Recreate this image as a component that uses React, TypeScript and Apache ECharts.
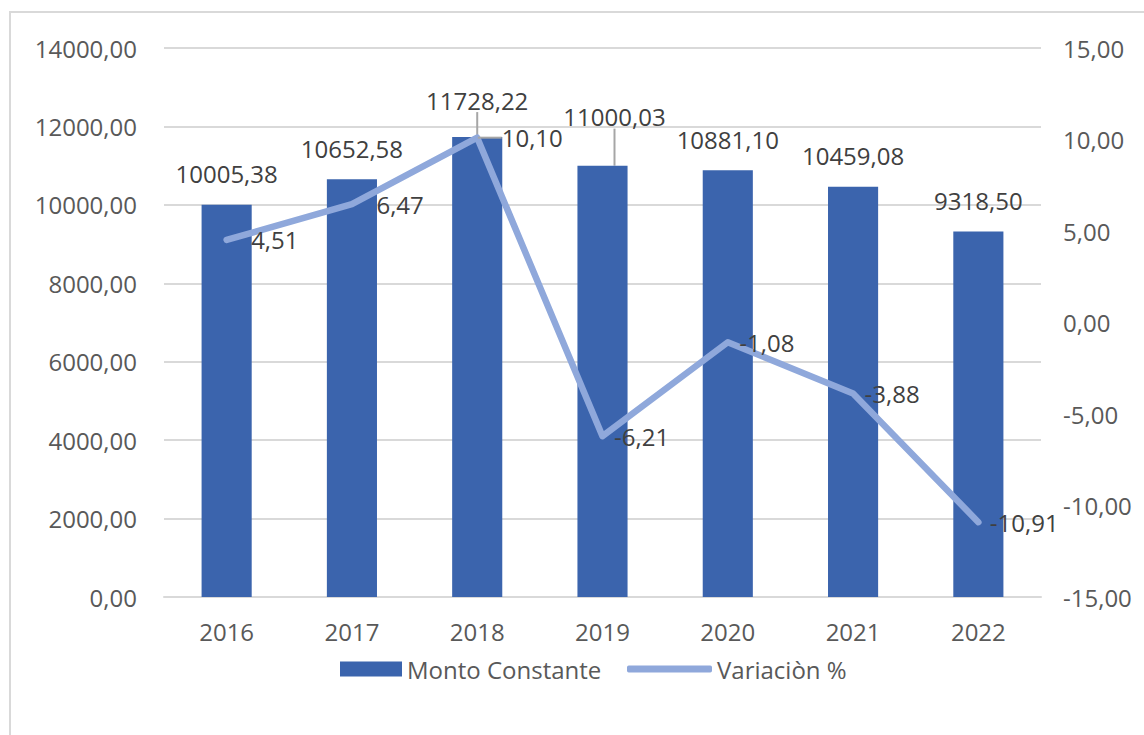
import React, { useEffect, useRef } from 'react';
import * as echarts from 'echarts';

const years = ['2016', '2017', '2018', '2019', '2020', '2021', '2022'];
const montoConstante = [10005.38, 10652.58, 11728.22, 11000.03, 10881.1, 10459.08, 9318.5];
const variacion = [4.51, 6.47, 10.1, -6.21, -1.08, -3.88, -10.91];
const seriesNames = ['Monto Constante', 'Variaciòn %'];

const fmt = (v: number) => v.toFixed(2).replace('.', ',');

const FONT = 'Open Sans';
const TXT = '#595959';
const LBL = '#404040';
const BAR = '#3B64AD';
const LINE = '#8FA8DB';

export default function App() {
  const ref = useRef<HTMLDivElement>(null);
  useEffect(() => {
    if (!ref.current) return;
    const chart = echarts.init(ref.current, undefined, { renderer: 'svg' });
    const barData = montoConstante.map((v, i) => ({
      value: v,
      labelLine: { show: i === 2 || i === 3 },
    }));
    const lineData = variacion.map((v, i) => ({
      value: v,
      labelLine: { show: i === 2 },
    }));
    chart.setOption({
      animation: false,
      backgroundColor: '#ffffff',
      textStyle: { fontFamily: FONT },
      graphic: [
        {
          type: 'rect',
          shape: { x: 10, y: 12, width: 1200, height: 800 },
          style: { fill: 'none', stroke: '#D9D9D9', lineWidth: 2 },
          silent: true,
          z: -1,
        },
      ],
      grid: { left: 164, right: 103, top: 48, bottom: 138 },
      legend: [
        {
          left: 335,
          top: 652,
          itemWidth: 62,
          itemHeight: 15,
          textStyle: { fontSize: 24, color: TXT, fontFamily: FONT },
          data: [{ name: seriesNames[0], icon: 'rect' }],
        },
        {
          left: 622,
          top: 652,
          itemWidth: 85,
          itemHeight: 7,
          textStyle: { fontSize: 24, color: TXT, fontFamily: FONT },
          data: [{ name: seriesNames[1], icon: 'roundRect', itemStyle: { color: LINE } }],
        },
      ],
      xAxis: {
        type: 'category',
        data: years,
        axisLine: { lineStyle: { color: '#D9D9D9', width: 2 } },
        axisTick: { show: false },
        axisLabel: { fontSize: 24, color: TXT, margin: 22, fontFamily: FONT },
      },
      yAxis: [
        {
          type: 'value',
          min: 0,
          max: 14000,
          interval: 2000,
          axisLabel: { fontSize: 24, color: TXT, margin: 27, formatter: (v: number) => fmt(v), fontFamily: FONT },
          splitLine: { lineStyle: { color: '#D9D9D9', width: 2 } },
          axisLine: { show: false },
          axisTick: { show: false },
        },
        {
          type: 'value',
          min: -15,
          max: 15,
          interval: 5,
          position: 'right',
          axisLabel: { fontSize: 24, color: TXT, margin: 22, formatter: (v: number) => fmt(v), fontFamily: FONT },
          splitLine: { show: false },
          axisLine: { show: false },
          axisTick: { show: false },
        },
      ],
      series: [
        {
          name: seriesNames[0],
          type: 'bar',
          data: barData,
          barWidth: '40%',
          itemStyle: { color: BAR },
          label: {
            show: true,
            position: 'top',
            distance: 19,
            fontSize: 24,
            color: LBL,
            fontFamily: FONT,
            formatter: (p: any) => fmt(p.value),
          },
          labelLine: { show: false, lineStyle: { color: '#A6A6A6', width: 2 } },
          labelLayout: (p: any) => {
            if (p.dataIndex === 2) return { dy: -6 };
            if (p.dataIndex === 3) return { dx: 12, dy: -18 };
            return {};
          },
        },
        {
          name: seriesNames[1],
          type: 'line',
          yAxisIndex: 1,
          data: lineData,
          symbol: 'circle',
          symbolSize: 1,
          showSymbol: true,
          lineStyle: { color: LINE, width: 6.5, cap: 'round', join: 'round' },
          itemStyle: { color: LINE },
          label: {
            show: true,
            position: 'right',
            fontSize: 24,
            color: LBL,
            fontFamily: FONT,
            formatter: (p: any) => fmt(p.value),
            distance: 11,
          },
          labelLine: { show: false, lineStyle: { color: '#A6A6A6', width: 2 } },
          labelLayout: (p: any) => {
            const v = variacion[p.dataIndex];
            return v >= 0 ? { dx: 13 } : {};
          },
          z: 3,
        },
      ],
    });
    return () => chart.dispose();
  }, []);
  return <div ref={ref} style={{ position: 'fixed', left: 0, top: 0, width: 1144, height: 735 }} />;
}
